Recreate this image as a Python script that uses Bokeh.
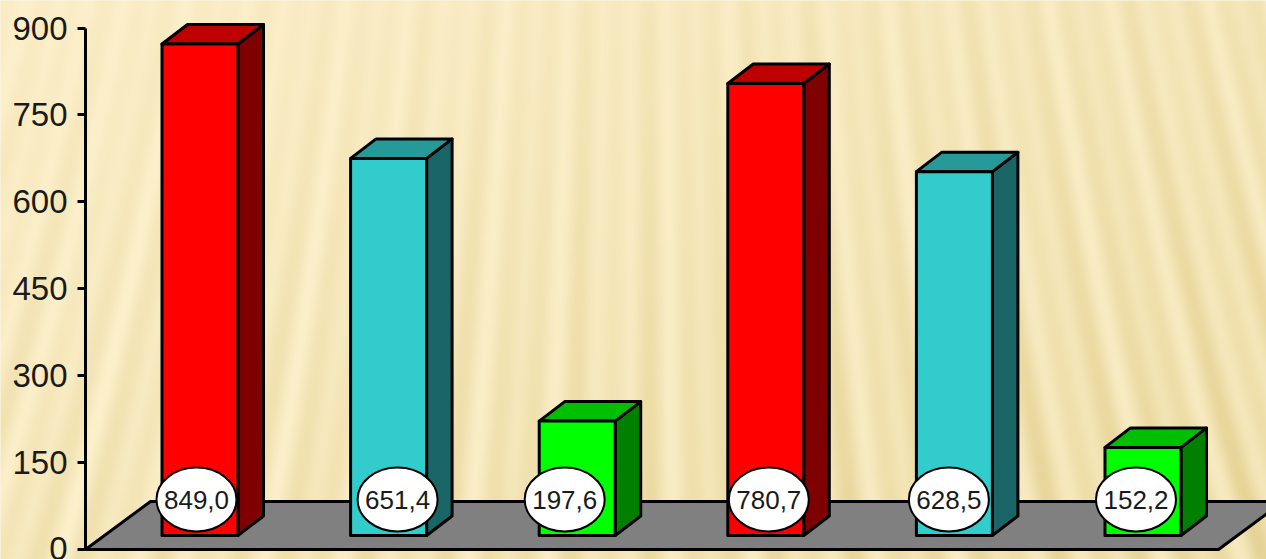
import numpy as np
from bokeh.plotting import figure
from bokeh.models import Range1d, FixedTicker
from bokeh.core.properties import value
from bokeh.embed import file_html
from bokeh.resources import INLINE

# ---- data ----
categories = [0, 1, 2, 3, 4, 5]
values = [849.0, 651.4, 197.6, 780.7, 628.5, 152.2]
y_ticks = [0, 150, 300, 450, 600, 750, 900]

front_colors = ["#FF0000", "#33CCCC", "#00FF00", "#FF0000", "#33CCCC", "#00FF00"]
top_colors = ["#BF0000", "#269999", "#00BF00", "#BF0000", "#269999", "#00BF00"]
side_colors = ["#7F0000", "#1A6666", "#007F00", "#7F0000", "#1A6666", "#007F00"]

# ---- layout (pixels of the reference) ----
W, H = 1266, 559
PX_Y = 521.0 / 900.0       # reference pixels per value unit
ZERO_Y = 548.5
X0 = 199.5                 # reference x of first category centre
PX_X = 188.6               # reference pixels per category
def ux(px): return px / PX_X
def uy(px): return px / PX_Y
def xp(ref): return (ref - X0) / PX_X
def yp(ref): return (ZERO_Y - ref) / PX_Y

x_range = Range1d(xp(0), xp(W))
y_range = Range1d(yp(H), yp(0))

p = figure(width=W, height=H, x_range=x_range, y_range=y_range,
           output_backend="svg", toolbar_location=None,
           min_border=0, min_border_left=0, min_border_right=0,
           min_border_top=0, min_border_bottom=0, x_axis_location=None)
p.outline_line_color = None
p.grid.visible = False
p.background_fill_color = "#F8EAC0"
p.border_fill_color = "#F8EAC0"

# ---- paper-like striped backdrop ----
yy, xx = np.mgrid[0:H, 0:W]
u = (xx - 640.0) * (1 + 0.0005 * (559 - yy))
st = (0.60 * np.sin(u / 6.5) + 0.40 * np.sin(u / 11.0 + 1.1))
base = 0.08 + 0.30 * xx / W + 0.24 * yy / H
amp = 0.08 + 0.22 * yy / H + 0.12 * xx / W
t = np.clip(base + amp * st, 0, 1)[::-1]
light = np.array([253, 241, 205])
dark = np.array([230, 212, 150])
img = np.zeros((H, W), dtype=np.uint32)
view = img.view(dtype=np.uint8).reshape((H, W, 4))
for c in range(3):
    view[:, :, c] = (light[c] + (dark[c] - light[c]) * t).astype(np.uint8)
view[:, :, 3] = 255
p.image_rgba(image=[img], x=xp(0), y=yp(H), dw=ux(W), dh=uy(H))

# ---- floor ----
p.patch([xp(85), xp(1218), xp(1283), xp(150)],
        [yp(549), yp(549), yp(501), yp(501)],
        fill_color="#808080", line_color="black", line_width=3, line_join="round")

# ---- 3-D bars ----
half = ux(38)
dx, dy = ux(25.5), uy(19.5)
v0 = yp(535)
xl = [c - half for c in categories]
xr = [c + half for c in categories]
ytop = [v0 + v for v in values]
style = dict(line_color="black", line_width=3, line_join="round")

p.patches([[r, r + dx, r + dx, r] for r, t_ in zip(xr, ytop)],
          [[v0, v0 + dy, t_ + dy, t_] for t_ in ytop],
          fill_color=side_colors, **style)
p.patches([[l, r, r + dx, l + dx] for l, r in zip(xl, xr)],
          [[t_, t_, t_ + dy, t_ + dy] for t_ in ytop],
          fill_color=top_colors, **style)
p.quad(left=xl, right=xr, bottom=[v0] * 6, top=ytop, fill_color=front_colors, **style)

# ---- value labels ----
label_shift = [-3.5, 9, -12.5, 3, -5.5, -7]
lx = [c + ux(s) for c, s in zip(categories, label_shift)]
ly = [yp(499)] * 6
p.ellipse(x=lx, y=ly, width=80, height=64, width_units="screen", height_units="screen",
          fill_color="white", line_color="black", line_width=2)
p.text(x=lx, y=ly, text=[f"{v:.1f}".replace(".", ",") for v in values],
       text_align="center", text_baseline="middle", text_color="#1A1A1A",
       text_font=value("Liberation Sans"), text_font_size="26px")

# ---- value axis ----
ax = p.yaxis[0]
ax.fixed_location = xp(85)
ax.bounds = (0, 900)
ax.ticker = FixedTicker(ticks=y_ticks)
ax.axis_line_color = "black"
ax.axis_line_width = 3
ax.major_tick_line_color = "black"
ax.major_tick_line_width = 3
ax.major_tick_in = 0
ax.major_tick_out = 8
ax.minor_tick_line_color = None
ax.major_label_standoff = 10
ax.major_label_text_font = "Liberation Sans"
ax.major_label_text_font_size = "33px"
ax.major_label_text_color = "#1A1A1A"

open("out.html", "w").write(file_html(p, INLINE))
